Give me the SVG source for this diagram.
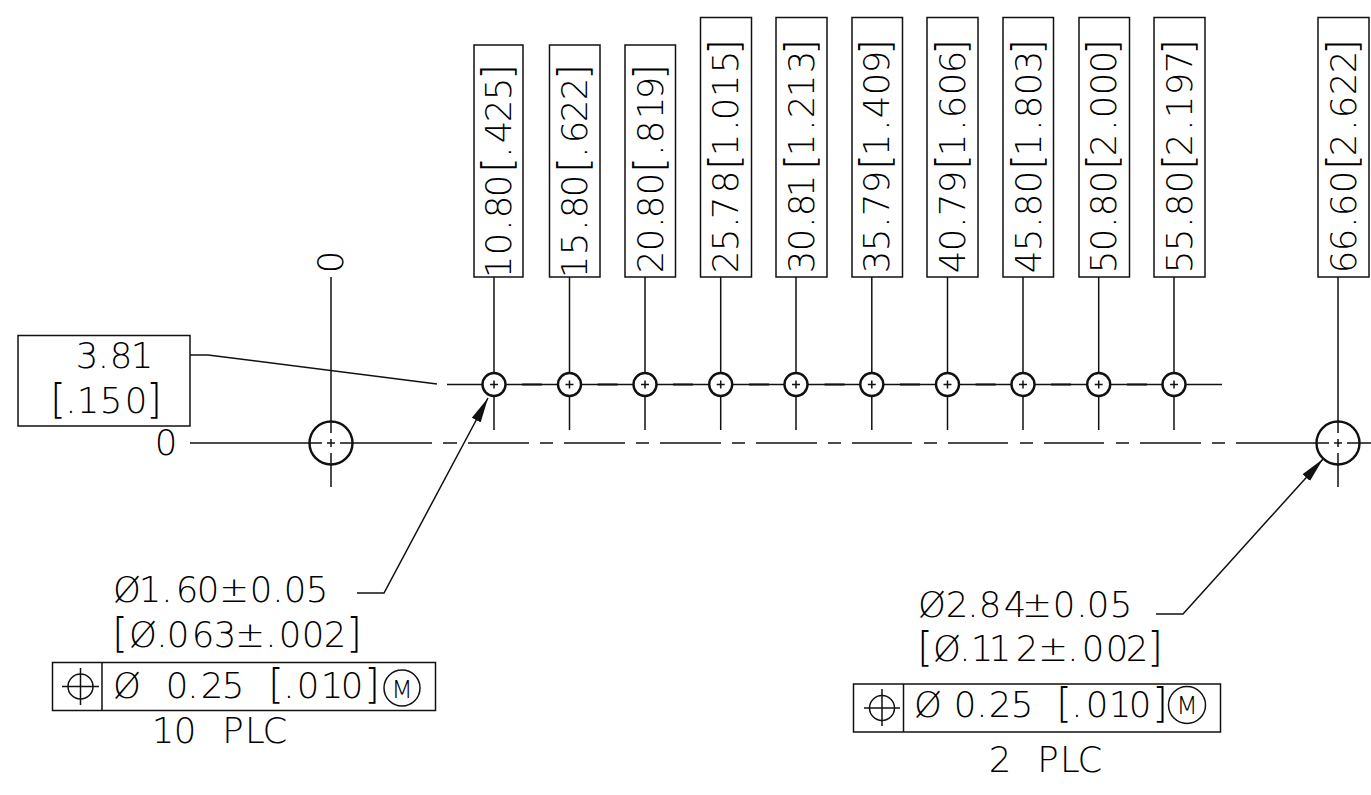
<svg xmlns="http://www.w3.org/2000/svg" width="1371" height="795" viewBox="0 0 1371 795">
<style>
.l{fill:none;stroke:#111;stroke-width:1.5}
.d{fill:none;stroke:#111;stroke-width:1.9}
.c{fill:#fff;stroke:#111;stroke-width:2.4}
.o{fill:none;stroke:#111;stroke-width:2.4}
.s{fill:none;stroke:#111;stroke-width:1.5}
.t{font-family:"DejaVu Sans","Liberation Sans",sans-serif;font-weight:200;font-size:35.500px;fill:#000;text-anchor:middle}
.b{font-size:40px}
.m{font-size:25px}
</style>
<defs>
<marker id="a" markerUnits="userSpaceOnUse" markerWidth="27" markerHeight="12" refX="25" refY="6" orient="auto"><path d="M0 1L25 6L0 11Z" fill="#111"/></marker>
<g id="hole"><circle class="c" r="11.500"/><path class="l" d="M-4 0H4M0-4V4"/></g>
<g id="big"><circle class="o" r="21.500"/><path class="l" d="M-4 0H4M0-4V4"/></g>
</defs>
<rect width="1371" height="795" fill="#fff"/>
<g id="connectors">
<path class="l" d="M447 384.500H1222"/>
<path class="d" d="M522 384.500H542M597.600 384.500H617.600M673 384.500H693M749 384.500H769M824.600 384.500H844.600M900 384.500H920M975.600 384.500H995.600M1051 384.500H1071M1127 384.500H1147"/>
<path class="l" d="M190 443H322M340 443H432M443 443H457M468 443H529M540 443H553M564 443H625M636 443H649M660 443H721M732 443H745M756 443H817M828 443H841M852 443H912M924 443H937M948 443H1008M1020 443H1033M1044 443H1104M1116 443H1129M1140 443H1201M1212 443H1225M1236 443H1329M1347 443H1371"/>
<path class="l" d="M494 277V430M569.500 277V430M645 277V430M720.700 277V430M796 277V430M871.800 277V430M947.500 277V430M1023 277V430M1098.700 277V430M1174 277V430M1338 277V433M1338 453V487M331 277V433M331 453V487"/>
<path class="l" d="M190 355H208L437 384"/>
<path class="l" d="M357 593H384L488 398" marker-end="url(#a)"/>
<path class="l" d="M1156 614H1183L1323 459" marker-end="url(#a)"/>
</g>
<g id="hole-1"><use href="#hole" x="494" y="384.500"/></g>
<g id="hole-2"><use href="#hole" x="569.500" y="384.500"/></g>
<g id="hole-3"><use href="#hole" x="645" y="384.500"/></g>
<g id="hole-4"><use href="#hole" x="720.700" y="384.500"/></g>
<g id="hole-5"><use href="#hole" x="796" y="384.500"/></g>
<g id="hole-6"><use href="#hole" x="871.800" y="384.500"/></g>
<g id="hole-7"><use href="#hole" x="947.500" y="384.500"/></g>
<g id="hole-8"><use href="#hole" x="1023" y="384.500"/></g>
<g id="hole-9"><use href="#hole" x="1098.700" y="384.500"/></g>
<g id="hole-10"><use href="#hole" x="1174" y="384.500"/></g>
<g id="datum-hole"><use href="#big" x="331" y="443"/></g>
<g id="end-hole"><use href="#big" x="1338" y="443"/></g>
<g id="dim-1"><rect class="l" x="474" y="45" width="49" height="232"/><text class="t" transform="translate(511 0) rotate(-90)" x="-267 -244 -225 -207 -186 -165 -152 -132 -111 -89 -72">10.80<tspan class="b">[</tspan>.425<tspan class="b">]</tspan></text></g>
<g id="dim-2"><rect class="l" x="549.500" y="45" width="50.500" height="232"/><text class="t" transform="translate(587 0) rotate(-90)" x="-267 -244 -225 -207 -186 -165 -152 -132 -111 -89 -72">15.80<tspan class="b">[</tspan>.622<tspan class="b">]</tspan></text></g>
<g id="dim-3"><rect class="l" x="625" y="45" width="50.500" height="232"/><text class="t" transform="translate(663 0) rotate(-90)" x="-262 -240 -222 -207 -184 -165 -150 -132 -108 -88 -72">20.80<tspan class="b">[</tspan>.819<tspan class="b">]</tspan></text></g>
<g id="dim-4"><rect class="l" x="700.500" y="17.500" width="51" height="259.500"/><text class="t" transform="translate(738 0) rotate(-90)" x="-262 -240 -222 -208 -182 -162 -145 -125 -109 -86 -62 -47">25.78<tspan class="b">[</tspan>1.015<tspan class="b">]</tspan></text></g>
<g id="dim-5"><rect class="l" x="776" y="17.500" width="51" height="259.500"/><text class="t" transform="translate(814 0) rotate(-90)" x="-262 -240 -222 -205 -186 -162 -145 -125 -107 -86 -62 -47">30.81<tspan class="b">[</tspan>1.213<tspan class="b">]</tspan></text></g>
<g id="dim-6"><rect class="l" x="852" y="17.500" width="50.500" height="259.500"/><text class="t" transform="translate(889 0) rotate(-90)" x="-262 -240 -222 -205 -182 -162 -145 -125 -107 -84 -62 -47">35.79<tspan class="b">[</tspan>1.409<tspan class="b">]</tspan></text></g>
<g id="dim-7"><rect class="l" x="927" y="17.500" width="51" height="259.500"/><text class="t" transform="translate(965 0) rotate(-90)" x="-262 -240 -222 -205 -182 -162 -145 -125 -107 -84 -62 -47">40.79<tspan class="b">[</tspan>1.606<tspan class="b">]</tspan></text></g>
<g id="dim-8"><rect class="l" x="1003" y="17.500" width="50.500" height="259.500"/><text class="t" transform="translate(1041 0) rotate(-90)" x="-262 -240 -222 -205 -182 -162 -145 -125 -107 -84 -62 -47">45.80<tspan class="b">[</tspan>1.803<tspan class="b">]</tspan></text></g>
<g id="dim-9"><rect class="l" x="1079" y="17.500" width="50.500" height="259.500"/><text class="t" transform="translate(1116 0) rotate(-90)" x="-262 -240 -222 -205 -182 -162 -145 -125 -107 -84 -62 -47">50.80<tspan class="b">[</tspan>2.000<tspan class="b">]</tspan></text></g>
<g id="dim-10"><rect class="l" x="1154" y="17.500" width="51" height="259.500"/><text class="t" transform="translate(1192 0) rotate(-90)" x="-262 -240 -222 -205 -182 -162 -145 -125 -107 -84 -62 -47">55.80<tspan class="b">[</tspan>2.197<tspan class="b">]</tspan></text></g>
<g id="dim-11"><rect class="l" x="1318" y="17.500" width="51" height="259.500"/><text class="t" transform="translate(1356 0) rotate(-90)" x="-262 -240 -222 -205 -182 -162 -145 -125 -107 -84 -62 -47">66.60<tspan class="b">[</tspan>2.622<tspan class="b">]</tspan></text></g>
<g id="zero-v"><text class="t" transform="translate(343 0) rotate(-90)" x="-262">0</text></g>
<g id="zero-h"><text class="t" x="166" y="455">0</text></g>
<g id="offset-box"><rect class="l" x="18" y="335.500" width="172" height="90.500"/><text class="t" x="87 103.500 121 142" y="368">3.81</text><text class="t" x="58 71 88 111 136 154" y="413"><tspan class="b">[</tspan>.150<tspan class="b">]</tspan></text></g>
<g id="note-left"><text class="t" x="127 150 167 187 208 234 261 278 295 317" y="602">Ø1.60±0.05</text><text class="t" x="120 143 162 178 203 225 250 271 290 313 335 354" y="647"><tspan class="b">[</tspan>Ø.063±.002<tspan class="b">]</tspan></text>
<rect class="l" x="52.500" y="662.500" width="383" height="48"/><path class="s" d="M102 662.500V710.500M62 686.500H99M80.500 668V705"/><circle class="s" cx="80.500" cy="686.500" r="12.500"/>
<text class="t" x="127 152 177 193 212 233 255 276 289 308 332 352 372" y="698">Ø 0.25 <tspan class="b">[</tspan>.010<tspan class="b">]</tspan></text><circle class="s" cx="402" cy="688" r="18"/><text class="t m" x="402" y="698">M</text>
<text class="t" x="163 185 210 233 255 275" y="743">10 PLC</text></g>
<g id="note-right"><text class="t" x="932 957 973 990 1015 1037 1064 1082 1098 1121" y="617">Ø2.84±0.05</text><text class="t" x="925 947 965 982 1000 1027 1053 1073 1093 1117 1137 1155" y="661"><tspan class="b">[</tspan>Ø.112±.002<tspan class="b">]</tspan></text>
<rect class="l" x="853.500" y="684" width="367" height="48"/><path class="s" d="M903.500 684V732M864 708H900M882 689V726"/><circle class="s" cx="882" cy="708" r="12.500"/>
<text class="t" x="928 965 982 1000 1022 1043 1064 1077 1097 1120 1140 1160" y="717">Ø0.25 <tspan class="b">[</tspan>.010<tspan class="b">]</tspan></text><circle class="s" cx="1187" cy="705" r="18.500"/><text class="t m" x="1187" y="714">M</text>
<text class="t" x="1000 1024 1048 1070 1090" y="772">2 PLC</text></g>
</svg>
